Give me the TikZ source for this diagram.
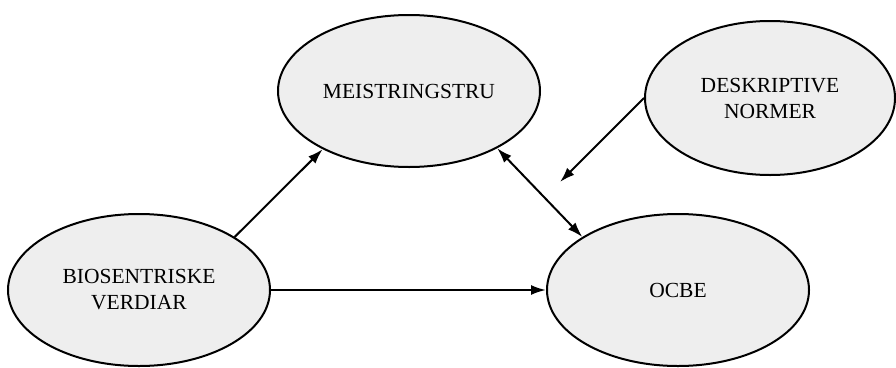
\documentclass[tikz,border=0pt]{standalone}
\usepackage{fontspec}
\setmainfont{Liberation Serif}
\usetikzlibrary{shapes.geometric,arrows.meta}
\begin{document}
\begin{tikzpicture}[x=1pt, y=-1pt, line width=2pt, every node/.append style={text=black, font=\fontsize{21.5}{26}\selectfont},
	factor/.style={draw, ellipse, fill=gray!13, minimum width=262pt, minimum height=152pt, inner sep=0pt, align=center},
	>={Latex[length=15pt, width=10pt]}]
	\useasboundingbox (0,0) rectangle (896,367);
	
	\node[factor] (meistring) at (409,91) {MEISTRINGSTRU};
	\node[factor, minimum width=250pt, minimum height=154pt] (normer) at (770,98) {DESKRIPTIVE\\NORMER};
	
	\node[factor] (bio) at (139,290) {BIOSENTRISKE\\VERDIAR};
	\node[factor] (ocbe) at (678,290) {OCBE};
	
	\coordinate (mid) at (560,182);
	
	\draw[->] (bio.29) -- (meistring.214);
	\draw[->] (bio) -- (ocbe);
	
	\draw[<->] (meistring.-33) -- (ocbe.151);
	\draw[->] (normer.west) -- (mid);
\end{tikzpicture}
\end{document}
